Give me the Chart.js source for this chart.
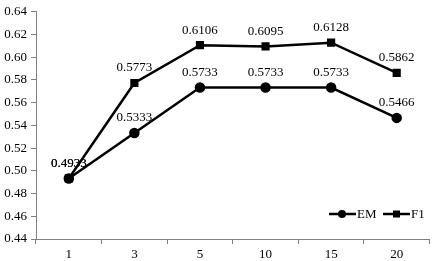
<!DOCTYPE html>
<html>
<head>
<meta charset="utf-8">
<script src="https://cdn.jsdelivr.net/npm/chart.js@4"></script>
<style>
  html, body { margin: 0; padding: 0; background: #fff; }
  #wrap { width: 436px; height: 261px; }
</style>
</head>
<body>
<div id="wrap"><canvas id="chart"></canvas></div>
<script>
// chart data
const categories = ['1', '3', '5', '10', '15', '20'];
const emValues = [0.4933, 0.5333, 0.5733, 0.5733, 0.5733, 0.5466];
const f1Values = [0.4933, 0.5773, 0.6106, 0.6095, 0.6128, 0.5862];
const yTicks = [0.44, 0.46, 0.48, 0.50, 0.52, 0.54, 0.56, 0.58, 0.60, 0.62, 0.64];

const FONT = "'Times New Roman', 'Liberation Serif', Times, serif";

// value labels above each point + legend in the lower right
const labelPlugin = {
    id: 'labels',
    afterDatasetsDraw(chart) {
        const ctx = chart.ctx;
        ctx.save();
        ctx.font = '13px ' + FONT;
        ctx.fillStyle = '#000';
        ctx.textAlign = 'center';
        ctx.textBaseline = 'middle';
        chart.data.datasets.forEach((ds, i) => {
            chart.getDatasetMeta(i).data.forEach((pt, j) => {
                ctx.fillText(ds.data[j].toFixed(4), pt.x, pt.y - 15);
            });
        });

        // legend
        const ly = 214;
        const items = [
            { x: 329, label: 'EM', style: 'circle' },
            { x: 383, label: 'F1', style: 'rect' }
        ];
        items.forEach(it => {
            ctx.strokeStyle = '#000';
            ctx.lineWidth = 2.5;
            ctx.beginPath();
            ctx.moveTo(it.x, ly);
            ctx.lineTo(it.x + 27, ly);
            ctx.stroke();
            ctx.fillStyle = '#000';
            if (it.style === 'circle') {
                ctx.beginPath();
                ctx.arc(it.x + 13, ly, 4, 0, Math.PI * 2);
                ctx.fill();
            } else {
                ctx.fillRect(it.x + 10, ly - 3.5, 7, 7);
            }
            ctx.textAlign = 'left';
            ctx.fillText(it.label, it.x + 28, ly + 1);
        });
        ctx.restore();
    }
};

const ctx = document.getElementById('chart').getContext('2d');
new Chart(ctx, {
    type: 'line',
    data: {
        labels: categories,
        datasets: [
            {
                label: 'EM',
                data: emValues,
                borderColor: '#000',
                backgroundColor: '#000',
                borderWidth: 2.5,
                pointStyle: 'circle',
                pointRadius: 4,
                tension: 0
            },
            {
                label: 'F1',
                data: f1Values,
                borderColor: '#000',
                backgroundColor: '#000',
                borderWidth: 2.5,
                pointStyle: 'rect',
                pointRadius: 4,
                tension: 0
            }
        ]
    },
    options: {
        responsive: true,
        maintainAspectRatio: false,
        animation: false,
        devicePixelRatio: 1,
        layout: { padding: { top: 11, right: 4, left: 0, bottom: 0 } },
        plugins: {
            legend: { display: false },
            tooltip: { enabled: false }
        },
        scales: {
            x: {
                offset: true,
                grid: { offset: true, drawOnChartArea: false, drawTicks: true, tickLength: 5, color: '#808080' },
                border: { display: true, color: '#808080', width: 1 },
                ticks: { color: '#000', font: { family: FONT, size: 13 }, padding: 3, maxRotation: 0 },
                afterFit(scale) { scale.height = 22; }
            },
            y: {
                min: 0.44,
                max: 0.64,
                afterBuildTicks(scale) { scale.ticks = yTicks.map(v => ({ value: v })); },
                grid: { drawOnChartArea: false, drawTicks: true, tickLength: 5, color: '#808080' },
                border: { display: true, color: '#808080', width: 1 },
                ticks: {
                    color: '#000',
                    font: { family: FONT, size: 13 },
                    padding: 4,
                    callback: v => Number(v).toFixed(2)
                },
                afterFit(scale) { scale.width = 36; }
            }
        }
    },
    plugins: [labelPlugin]
});
</script>
</body>
</html>
